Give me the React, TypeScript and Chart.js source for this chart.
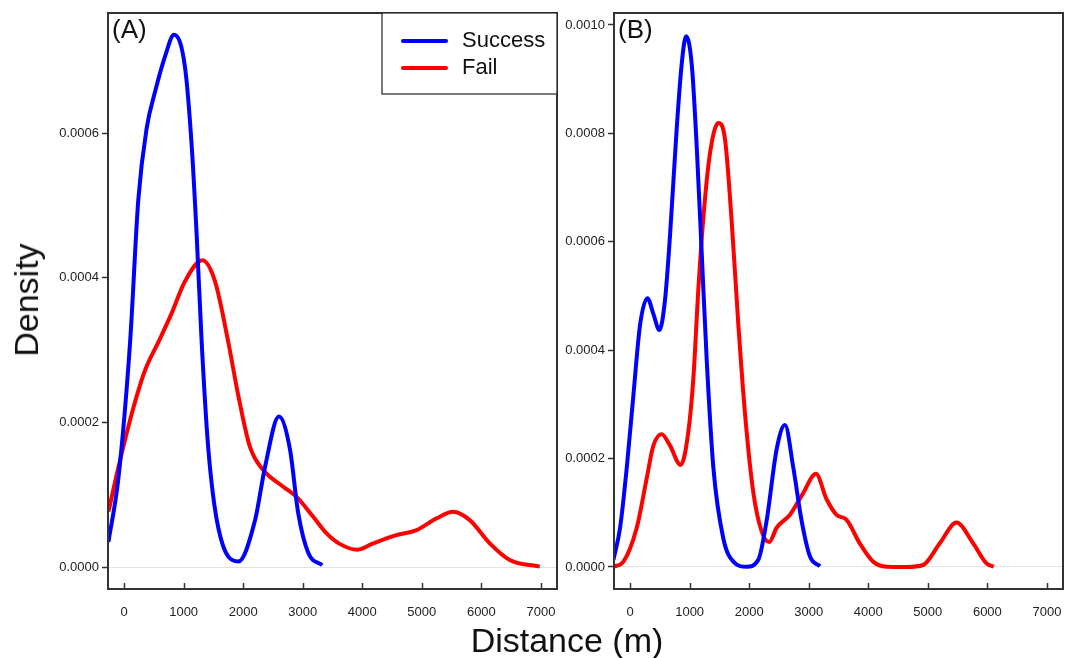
import React, { useEffect, useRef } from 'react';
import { Chart, registerables } from 'chart.js';

Chart.register(...registerables);
Chart.defaults.font.family = 'Arial, "Liberation Sans", Helvetica, sans-serif';

const FONT = 'Arial, "Liberation Sans", Helvetica, sans-serif';

const seriesNames = ['Success', 'Fail'];
const seriesColors = ['#0000ff', '#ff0000'];
const panelLabels = ['(A)', '(B)'];
const xTitle = 'Distance (m)';
const yTitle = 'Density';

const xTicks = [0, 1000, 2000, 3000, 4000, 5000, 6000, 7000];
const yTicksA = [0, 0.0002, 0.0004, 0.0006];
const yTicksB = [0, 0.0002, 0.0004, 0.0006, 0.0008, 0.001];

// Panel A – Success
const successAX = [-263, -95, 101, 240, 380, 520, 688, 839, 1023, 1135, 1219, 1303, 1415, 1582, 1918, 2198, 2366, 2601, 2785, 2925, 3092, 3327];
const successAY = [0.0000346, 0.000123, 0.000311, 0.000509, 0.000607, 0.000657, 0.000706, 0.000736, 0.000691, 0.000583, 0.000459, 0.000311, 0.000163, 0.0000543, 0.0000075, 0.0000642, 0.000138, 0.000208, 0.000163, 0.0000741, 0.0000198, 0.0000025];

// Panel A – Fail
const failAX = [-263, -95, 129, 352, 576, 800, 1023, 1314, 1527, 1750, 1918, 2114, 2338, 2673, 2897, 3176, 3401, 3620, 3920, 4183, 4575, 4911, 5246, 5526, 5805, 6141, 6477, 6980];
const failAY = [0.0000765, 0.000138, 0.000212, 0.000272, 0.000311, 0.000351, 0.000395, 0.000424, 0.000395, 0.000311, 0.000237, 0.000166, 0.000134, 0.000111, 0.000097, 0.0000694, 0.0000465, 0.0000320, 0.0000240, 0.0000327, 0.0000441, 0.000051, 0.0000672, 0.0000763, 0.0000648, 0.0000327, 0.0000097, 0.0000005];

// Panel B – Success
const successBX = [-280, -168, -55, 55, 168, 291, 391, 492, 587, 671, 783, 867, 940, 1035, 1119, 1203, 1287, 1398, 1566, 1734, 1958, 2153, 2293, 2461, 2601, 2740, 2880, 3020, 3188];
const successBY = [0.0000132, 0.0000724, 0.000184, 0.000316, 0.000447, 0.000496, 0.000467, 0.000437, 0.000493, 0.000612, 0.000809, 0.000928, 0.000979, 0.000928, 0.000776, 0.000579, 0.000382, 0.000184, 0.0000526, 0.0000099, 0.0000005, 0.0000132, 0.0000855, 0.000217, 0.000262, 0.000184, 0.0000855, 0.0000197, 0.0000013];

// Panel B – Fail
const failBX = [-280, -112, 112, 280, 391, 531, 671, 850, 979, 1063, 1147, 1231, 1342, 1482, 1594, 1706, 1818, 1930, 2069, 2209, 2338, 2461, 2685, 2900, 3121, 3300, 3468, 3636, 3859, 4082, 4306, 4643, 4921, 5201, 5481, 5760, 5985, 6107];
const failBY = [0.0000005, 0.0000099, 0.0000724, 0.000164, 0.000224, 0.000245, 0.000224, 0.000188, 0.00025, 0.000349, 0.000513, 0.000645, 0.000763, 0.000819, 0.000789, 0.000638, 0.000447, 0.000283, 0.000138, 0.0000658, 0.0000461, 0.0000724, 0.0000963, 0.000135, 0.000172, 0.000125, 0.0000963, 0.000087, 0.0000432, 0.0000099, 0.0000006, 0.0000002, 0.0000037, 0.0000438, 0.000082, 0.0000438, 0.0000068, 0.0000006];

function zip(xs: number[], ys: number[]) {
  return xs.map((x, i) => ({ x, y: ys[i] }));
}

type PanelProps = {
  label: string;
  success: { x: number; y: number }[];
  fail: { x: number; y: number }[];
  yTicks: number[];
  yMin: number;
  yMax: number;
  showLegend: boolean;
  yAxisWidth: number;
  width: number;
  left: number;
};

function Panel(props: PanelProps) {
  const ref = useRef<HTMLCanvasElement>(null);
  useEffect(() => {
    const canvas = ref.current!;
    const framePlugin = {
      id: 'frame',
      afterDraw(chart: any) {
        const { ctx, chartArea: a, scales } = chart;
        ctx.save();
        // inward x tick marks
        ctx.strokeStyle = '#333';
        ctx.lineWidth = 1.5;
        for (const t of scales.x.ticks) {
          const px = Math.round(scales.x.getPixelForValue(t.value)) + 0.5;
          ctx.beginPath();
          ctx.moveTo(px, a.bottom);
          ctx.lineTo(px, a.bottom - 6);
          ctx.stroke();
        }
        ctx.lineWidth = 2;
        ctx.strokeRect(a.left, a.top, a.right - a.left, a.bottom - a.top);
        // panel label
        ctx.fillStyle = '#111';
        ctx.font = `26px ${FONT}`;
        ctx.textBaseline = 'middle';
        ctx.textAlign = 'left';
        ctx.fillText(props.label, a.left + 4, a.top + 18);
        if (props.showLegend) {
          const w = 175;
          const h = 81;
          const bx = a.right - w;
          const by = a.top;
          ctx.fillStyle = '#fff';
          ctx.fillRect(bx, by, w, h);
          ctx.strokeStyle = '#222';
          ctx.lineWidth = 1.2;
          ctx.strokeRect(bx, by, w, h);
          chart.data.datasets.forEach((ds: any, i: number) => {
            const y = by + 28 + i * 27;
            ctx.strokeStyle = ds.borderColor;
            ctx.lineWidth = 4;
            ctx.lineCap = 'round';
            ctx.beginPath();
            ctx.moveTo(bx + 21, y);
            ctx.lineTo(bx + 64, y);
            ctx.stroke();
            ctx.fillStyle = '#111';
            ctx.font = `22px ${FONT}`;
            ctx.textBaseline = 'middle';
            ctx.fillText(ds.label, bx + 80, y);
          });
        }
        ctx.restore();
      },
    };

    const chart = new Chart(canvas, {
      type: 'line',
      data: {
        datasets: [
          {
            label: seriesNames[0],
            data: props.success,
            borderColor: seriesColors[0],
            backgroundColor: seriesColors[0],
            borderWidth: 4,
            pointRadius: 0,
            cubicInterpolationMode: 'monotone',
            fill: false,
          },
          {
            label: seriesNames[1],
            data: props.fail,
            borderColor: seriesColors[1],
            backgroundColor: seriesColors[1],
            borderWidth: 4,
            pointRadius: 0,
            cubicInterpolationMode: 'monotone',
            fill: false,
          },
        ],
      },
      options: {
        animation: false,
        responsive: false,
        maintainAspectRatio: false,
        layout: { padding: { top: 13, right: 2, left: 0, bottom: 0 } },
        plugins: { legend: { display: false }, tooltip: { enabled: false } },
        scales: {
          x: {
            type: 'linear',
            min: -270,
            max: 7270,
            afterBuildTicks: (s: any) => {
              s.ticks = xTicks.map((v) => ({ value: v }));
            },
            afterFit: (s: any) => {
              s.height = 69;
              s.paddingLeft = 0;
              s.paddingRight = 0;
            },
            grid: { display: false, drawTicks: false },
            border: { display: false },
            ticks: {
              padding: 16,
              color: '#222',
              font: { size: 13 },
              maxRotation: 0,
              autoSkip: false,
              callback: (v: any) => String(v),
            },
          },
          y: {
            type: 'linear',
            min: props.yMin,
            max: props.yMax,
            afterBuildTicks: (s: any) => {
              s.ticks = props.yTicks.map((v) => ({ value: v }));
            },
            afterFit: (s: any) => {
              s.width = props.yAxisWidth;
              s.paddingTop = 0;
              s.paddingBottom = 0;
            },
            grid: {
              color: (c: any) => (c.tick && Math.abs(c.tick.value) < 1e-12 ? '#e2e2e2' : 'rgba(0,0,0,0)'),
              tickColor: '#333',
              tickLength: 6,
              tickWidth: 1.5,
              lineWidth: 1,
              drawOnChartArea: true,
            },
            border: { display: true, color: '#333', width: 2 },
            ticks: {
              padding: 3,
              color: '#222',
              font: { size: 13 },
              callback: (v: any) => Number(v).toFixed(4),
            },
          },
        },
      } as any,
      plugins: [framePlugin],
    });
    return () => chart.destroy();
  }, []);

  return (
    <canvas
      ref={ref}
      width={props.width}
      height={658}
      style={{ position: 'absolute', left: props.left, top: 0, width: props.width, height: 658 }}
    />
  );
}

export default function App() {
  return (
    <div style={{ position: 'absolute', left: 0, top: 0, width: 1065, height: 658, background: '#fff', overflow: 'hidden' }}>
      <Panel
        label={panelLabels[0]}
        success={zip(successAX, successAY)}
        fail={zip(failAX, failAY)}
        yTicks={yTicksA}
        yMin={-0.0000304}
        yMax={0.000766}
        showLegend={true}
        yAxisWidth={108}
        width={559}
        left={0}
      />
      <Panel
        label={panelLabels[1]}
        success={zip(successBX, successBY)}
        fail={zip(failBX, failBY)}
        yTicks={yTicksB}
        yMin={-0.0000406}
        yMax={0.001022}
        showLegend={false}
        yAxisWidth={55}
        width={506}
        left={559}
      />
      <div
        style={{
          position: 'absolute',
          left: 26,
          top: 300,
          transform: 'translate(-50%, -50%) rotate(-90deg)',
          fontFamily: FONT,
          fontSize: 34,
          lineHeight: '34px',
          color: '#111',
          whiteSpace: 'nowrap',
        }}
      >
        {yTitle}
      </div>
      <div
        style={{
          position: 'absolute',
          left: 0,
          width: 1134,
          top: 623,
          textAlign: 'center',
          fontFamily: FONT,
          fontSize: 34,
          lineHeight: '34px',
          color: '#111',
          whiteSpace: 'nowrap',
        }}
      >
        {xTitle}
      </div>
    </div>
  );
}
